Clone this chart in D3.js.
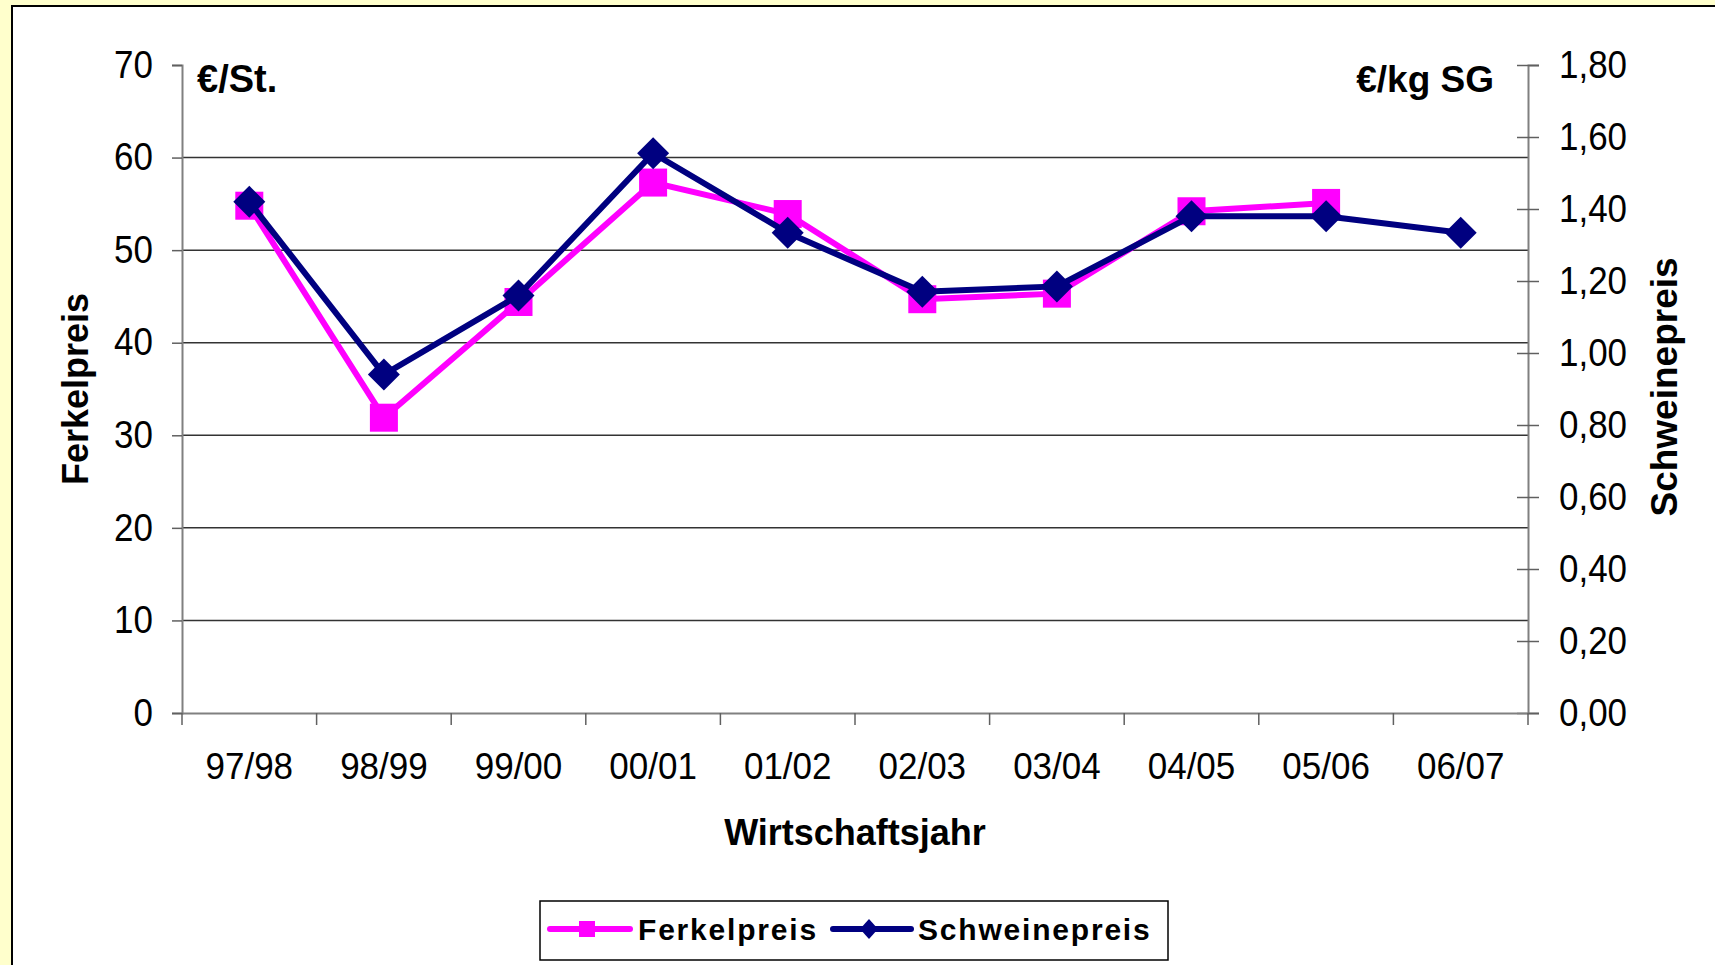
<!DOCTYPE html>
<html>
<head>
<meta charset="utf-8">
<script src="https://cdn.jsdelivr.net/npm/d3@7"></script>
<style>
  html, body { margin: 0; padding: 0; background: #FFFFCC; }
  svg { display: block; font-family: "Liberation Sans", Arial, sans-serif; }
</style>
</head>
<body>
<svg id="chart" width="1715" height="965"></svg>
<script>
// ---- data ----
const categories = ["97/98","98/99","99/00","00/01","01/02","02/03","03/04","04/05","05/06","06/07"];
const ferkelpreis = [54.8, 31.9, 44.4, 57.3, 53.9, 44.7, 45.3, 54.2, 55.1, null];
const schweinepreis = [1.42, 0.94, 1.16, 1.555, 1.334, 1.17, 1.185, 1.38, 1.38, 1.334];
const leftTicks = [0, 10, 20, 30, 40, 50, 60, 70];
const rightTicks = [0, 0.2, 0.4, 0.6, 0.8, 1.0, 1.2, 1.4, 1.6, 1.8];
const seriesNames = ["Ferkelpreis", "Schweinepreis"];
const seriesColors = ["#FF00FF", "#000080"];

// ---- layout ----
const W = 1715, H = 965;
const plot = { left: 182, right: 1528, top: 65, bottom: 713 };
const svg = d3.select("#chart");
const FONT = "'Liberation Sans', Arial, sans-serif";

// chart area
svg.append("rect").attr("x", 12).attr("y", 6).attr("width", W).attr("height", H)
  .attr("fill", "#ffffff").attr("stroke", "#000").attr("stroke-width", 2);

const x = d3.scaleBand().domain(categories).range([plot.left, plot.right]).paddingInner(0).paddingOuter(0);
const yL = d3.scaleLinear().domain([0, 70]).range([plot.bottom, plot.top]);
const yR = d3.scaleLinear().domain([0, 1.8]).range([plot.bottom, plot.top]);
const fmtR = v => d3.format(".2f")(v).replace(".", ",");

// gridlines
svg.append("g").selectAll("line").data(leftTicks.filter(t => t > 0 && t < 70)).join("line")
  .attr("x1", plot.left).attr("x2", plot.right)
  .attr("y1", d => yL(d)).attr("y2", d => yL(d))
  .attr("stroke", "#333").attr("stroke-width", 1.5);

// left axis
const gL = svg.append("g").attr("transform", `translate(${plot.left},0)`)
  .call(d3.axisLeft(yL).tickValues(leftTicks).tickSize(10).tickPadding(19).tickFormat(d3.format("d")));
gL.select(".domain").attr("stroke", "#808080").attr("stroke-width", 2);
gL.selectAll(".tick line").attr("stroke", "#606060").attr("stroke-width", 1.5);
gL.selectAll(".tick text").attr("font-size", 35).attr("fill", "#000")
  .attr("font-family", FONT).attr("dy", "0.31em").attr("transform", "scale(1,1.12)");

// right axis
const gR = svg.append("g").attr("transform", `translate(${plot.right},0)`)
  .call(d3.axisRight(yR).tickValues(rightTicks).tickSize(11).tickPadding(20).tickFormat(fmtR));
gR.select(".domain").attr("stroke", "#808080").attr("stroke-width", 2);
gR.selectAll(".tick line").attr("x1", -11).attr("x2", 11).attr("stroke", "#606060").attr("stroke-width", 1.5);
gR.selectAll(".tick text").attr("font-size", 35).attr("fill", "#000")
  .attr("font-family", FONT).attr("dy", "0.31em").attr("transform", "scale(1,1.12)");

// bottom axis
const gB = svg.append("g").attr("transform", `translate(0,${plot.bottom})`)
  .call(d3.axisBottom(x).tickSize(0).tickPadding(0));
gB.select(".domain").attr("stroke", "#808080").attr("stroke-width", 2);
gB.selectAll(".tick text").attr("font-size", 35).attr("fill", "#000")
  .attr("font-family", FONT).attr("y", 0).attr("dy", 0)
  .attr("transform", "translate(0,66) scale(1,1.08)");
const boundaries = categories.map(c => x(c)).concat([x.range()[1]]);
gB.append("g").selectAll("line").data(boundaries).join("line")
  .attr("x1", d => d).attr("x2", d => d).attr("y1", 0).attr("y2", 12)
  .attr("stroke", "#606060").attr("stroke-width", 1.5);

// unit labels
svg.append("text").attr("x", 197).attr("y", 92).attr("font-size", 38).attr("font-weight", "bold").text("€/St.");
svg.append("text").attr("x", 1494).attr("y", 92).attr("text-anchor", "end").attr("font-size", 37).attr("font-weight", "bold").text("€/kg SG");

// axis titles
const cy = (plot.top + plot.bottom) / 2;
svg.append("text").attr("transform", `translate(88,${cy}) rotate(-90)`).attr("text-anchor", "middle")
  .attr("font-size", 36).attr("font-weight", "bold").text("Ferkelpreis");
svg.append("text").attr("transform", `translate(1677,${cy - 2}) rotate(-90)`).attr("text-anchor", "middle")
  .attr("font-size", 37).attr("font-weight", "bold").text("Schweinepreis");
svg.append("text").attr("x", (plot.left + plot.right) / 2).attr("y", 845).attr("text-anchor", "middle")
  .attr("font-size", 36).attr("font-weight", "bold").text("Wirtschaftsjahr");

// series
const cx = c => x(c) + x.bandwidth() / 2;
const fData = categories.map((c, i) => ({ c, v: ferkelpreis[i] })).filter(d => d.v != null);
const sData = categories.map((c, i) => ({ c, v: schweinepreis[i] })).filter(d => d.v != null);

const lineF = d3.line().x(d => cx(d.c)).y(d => yL(d.v));
const lineS = d3.line().x(d => cx(d.c)).y(d => yR(d.v));

svg.append("path").datum(fData).attr("d", lineF).attr("fill", "none")
  .attr("stroke", seriesColors[0]).attr("stroke-width", 6);
svg.append("g").selectAll("rect").data(fData).join("rect")
  .attr("x", d => cx(d.c) - 14).attr("y", d => yL(d.v) - 14)
  .attr("width", 28).attr("height", 28).attr("fill", seriesColors[0]);

svg.append("path").datum(sData).attr("d", lineS).attr("fill", "none")
  .attr("stroke", seriesColors[1]).attr("stroke-width", 6);
svg.append("g").selectAll("path").data(sData).join("path")
  .attr("d", d => { const px = cx(d.c), py = yR(d.v), r = 16;
    return `M${px},${py - r}L${px + r},${py}L${px},${py + r}L${px - r},${py}Z`; })
  .attr("fill", seriesColors[1]);

// legend
const lg = svg.append("g");
lg.append("rect").attr("x", 540).attr("y", 901).attr("width", 628).attr("height", 59)
  .attr("fill", "#fff").attr("stroke", "#000").attr("stroke-width", 1.5);
const ly = 929;
lg.append("line").attr("x1", 550).attr("x2", 630).attr("y1", ly).attr("y2", ly)
  .attr("stroke", seriesColors[0]).attr("stroke-width", 6).attr("stroke-linecap", "round");
lg.append("rect").attr("x", 579).attr("y", ly - 8).attr("width", 16).attr("height", 16).attr("fill", seriesColors[0]);
lg.append("text").attr("x", 638).attr("y", ly + 11).attr("font-size", 30).attr("font-weight", "bold")
  .attr("letter-spacing", 1.8).text(seriesNames[0]);
lg.append("line").attr("x1", 833).attr("x2", 911).attr("y1", ly).attr("y2", ly)
  .attr("stroke", seriesColors[1]).attr("stroke-width", 6).attr("stroke-linecap", "round");
lg.append("path").attr("d", `M869,${ly - 10}L878,${ly}L869,${ly + 10}L860,${ly}Z`).attr("fill", seriesColors[1]);
lg.append("text").attr("x", 918).attr("y", ly + 11).attr("font-size", 30).attr("font-weight", "bold")
  .attr("letter-spacing", 1.8).text(seriesNames[1]);
</script>
</body>
</html>
